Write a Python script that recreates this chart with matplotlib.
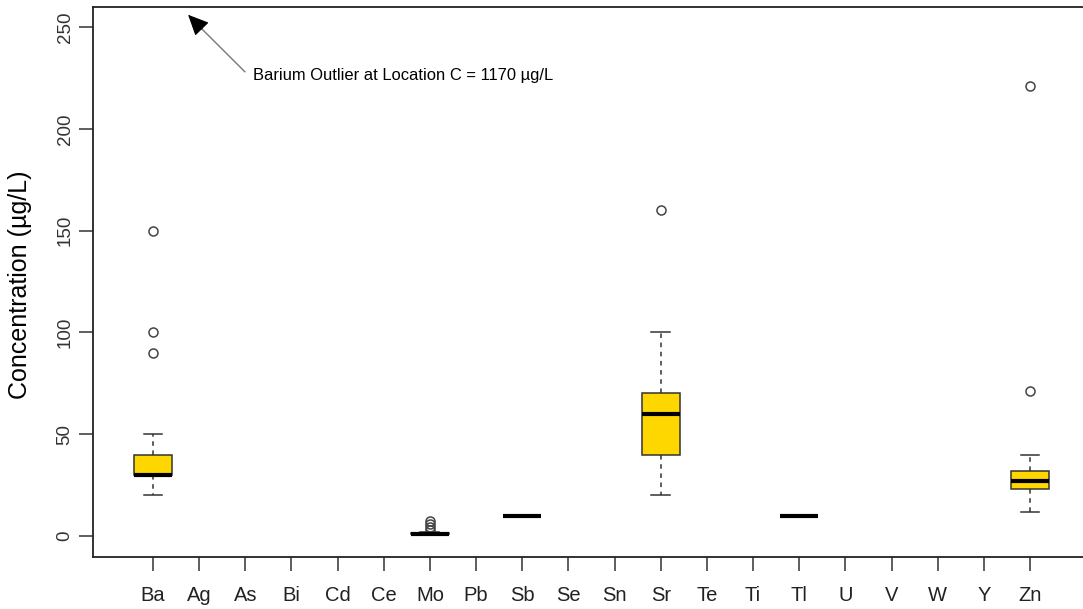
import matplotlib.pyplot as plt
import numpy as np

plt.rcParams["font.family"] = ["Liberation Sans", "DejaVu Sans"]

# element order on the x axis
elements = ["Ba", "Ag", "As", "Bi", "Cd", "Ce", "Mo", "Pb", "Sb", "Se",
            "Sn", "Sr", "Te", "Ti", "Tl", "U", "V", "W", "Y", "Zn"]

# box statistics (ug/L) for the elements that have data
box_elements = ["Ba", "Mo", "Sb", "Sr", "Tl", "Zn"]
whislo = [20, 0.6, 10, 20, 10, 12]
q1 = [30, 1.0, 10, 40, 10, 23]
med = [30, 1.2, 10, 60, 10, 27]
q3 = [40, 1.6, 10, 70, 10, 32]
whishi = [50, 2.0, 10, 100, 10, 40]
fliers = [[90, 100, 150], [3, 4.5, 6, 7.5], [], [160], [], [71, 221]]

ba_outlier = 1170

fig = plt.figure(figsize=(10.83, 6.09), dpi=100)
ax = fig.add_axes([93 / 1083, 52 / 609, 1.0 - 93 / 1083, 550 / 609])

stats = []
for i, name in enumerate(box_elements):
    stats.append(dict(label=name, whislo=whislo[i], q1=q1[i], med=med[i],
                      q3=q3[i], whishi=whishi[i], fliers=fliers[i]))
positions = [elements.index(n) + 1 for n in box_elements]

ax.bxp(stats, positions=positions, widths=0.82, patch_artist=True,
       boxprops=dict(facecolor="#FFD700", edgecolor="#333333", linewidth=1.1),
       medianprops=dict(color="black", linewidth=3, solid_capstyle="butt"),
       whiskerprops=dict(color="#333333", linewidth=1.1, linestyle=(0, (3, 3))),
       capprops=dict(color="#333333", linewidth=1.1),
       capwidths=0.41,
       flierprops=dict(marker="o", markerfacecolor="none", markeredgecolor="#444444",
                       markersize=6.5, markeredgewidth=1.1))

ax.set_xlim(1 - 60 / 46.16, 20 + 53 / 46.16)
ax.set_ylim(-10.3, 259.8)
ax.set_xticks(range(1, len(elements) + 1))
ax.set_xticklabels(elements, fontsize=14.5, color="#222222")
ax.set_yticks([0, 50, 100, 150, 200, 250])
ax.set_yticklabels(["0", "50", "100", "150", "200", "250"], rotation=90,
                   va="center", fontsize=13.5, color="#333333")
ax.tick_params(axis="both", length=10, width=1.1, color="#333333")
ax.tick_params(axis="x", pad=11)
ax.tick_params(axis="y", pad=4)
for s in ["left", "top", "bottom"]:
    ax.spines[s].set_linewidth(1.3)
    ax.spines[s].set_color("#222222")
ax.spines["right"].set_visible(False)

fig.text(20 / 1083, 324 / 609, "Concentration (µg/L)", fontsize=18,
         rotation=90, ha="center", va="center")

# arrow: grey shaft, black filled head
ax.plot([2.06, 2.99], [249, 228], color="#777777", lw=1.0)
ax.annotate("", xy=(1.76, 256), xytext=(2.06, 249),
            arrowprops=dict(arrowstyle="-|>,head_length=0.65,head_width=0.3",
                            mutation_scale=20, color="black", lw=0.8,
                            shrinkA=0, shrinkB=0))
ax.text(3.17, 226, f"Barium Outlier at Location C = {ba_outlier} µg/L",
        fontsize=11.9, va="center", ha="left")

fig.savefig("out.png", dpi=100)
